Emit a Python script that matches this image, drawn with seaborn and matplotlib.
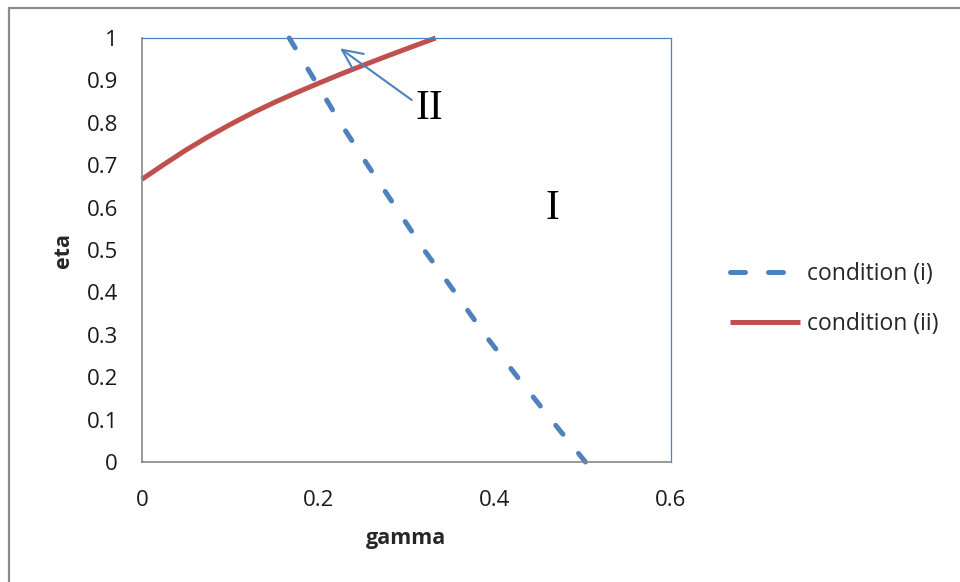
import matplotlib
matplotlib.use("Agg")
import matplotlib.pyplot as plt
from matplotlib.lines import Line2D
import seaborn as sns
import pandas as pd

# ---- data ----
cond_i_gamma = [0.167, 0.196, 0.225, 0.256, 0.288, 0.320, 0.355, 0.389, 0.426, 0.464, 0.503]
cond_i_eta = [1.0, 0.9, 0.8, 0.7, 0.6, 0.5, 0.4, 0.3, 0.2, 0.1, 0.0]

cond_ii_gamma = [0.0, 0.025, 0.05, 0.075, 0.1, 0.125, 0.15, 0.175, 0.2, 0.225,
                 0.25, 0.275, 0.3, 0.333]
cond_ii_eta = [0.667, 0.702, 0.736, 0.767, 0.796, 0.823, 0.848, 0.871, 0.893,
               0.9145, 0.935, 0.955, 0.9745, 1.0]

series_labels = ["condition (i)", "condition (ii)"]
x_ticks = [0, 0.2, 0.4, 0.6]
x_tick_labels = ["0", "0.2", "0.4", "0.6"]
y_ticks = [0, 0.1, 0.2, 0.3, 0.4, 0.5, 0.6, 0.7, 0.8, 0.9, 1.0]
y_tick_labels = ["0", "0.1", "0.2", "0.3", "0.4", "0.5", "0.6", "0.7", "0.8", "0.9", "1"]
x_label = "gamma"
y_label = "eta"
region_labels = ["I", "II"]

BLUE = "#4F81BD"
RED = "#C0504D"
GRAY = "#868686"

sns.set_style("white")
plt.rcParams["font.family"] = ["Open Sans", "DejaVu Sans"]

fig = plt.figure(figsize=(9.6, 5.82), dpi=100)
W, H = 960, 582
L, R, T, B = 142, 671, 38, 462
ax = fig.add_axes([L / W, 1 - B / H, (R - L) / W, (B - T) / H])

df_i = pd.DataFrame({"gamma": cond_i_gamma, "eta": cond_i_eta})
df_ii = pd.DataFrame({"gamma": cond_ii_gamma, "eta": cond_ii_eta})

sns.lineplot(data=df_i, x="gamma", y="eta", ax=ax, color=BLUE, lw=3.6,
             linestyle=(0, (2.3, 4.94)), dash_capstyle="round", sort=False,
             estimator=None, clip_on=False)
sns.lineplot(data=df_ii, x="gamma", y="eta", ax=ax, color=RED, lw=3.6,
             solid_capstyle="butt", solid_joinstyle="round", sort=False,
             estimator=None, clip_on=False)

ax.set_xlim(0, 0.6)
ax.set_ylim(0, 1)
ax.set_xticks(x_ticks)
ax.set_xticklabels(x_tick_labels)
ax.set_yticks(y_ticks)
ax.set_yticklabels(y_tick_labels)
ax.tick_params(axis="both", which="major", direction="out", length=7.2,
               width=1.1, color=GRAY, labelsize=16, labelcolor="#1a1a1a")
ax.tick_params(axis="y", pad=10)
ax.tick_params(axis="x", pad=13)

for side in ["left", "bottom"]:
    ax.spines[side].set_color(GRAY)
    ax.spines[side].set_linewidth(1.2)
for side in ["top", "right"]:
    ax.spines[side].set_color(BLUE)
    ax.spines[side].set_linewidth(0.9)
    ax.spines[side].set_visible(True)

ax.set_xlabel(x_label, fontsize=15.5, fontweight="bold", labelpad=12)
ax.set_ylabel(y_label, fontsize=15.5, fontweight="bold", labelpad=9)

# region labels
ax.text(0.465, 0.597, region_labels[0], fontsize=30, family="Liberation Serif",
        ha="center", va="center", color="black")
ax.text(0.3255, 0.832, region_labels[1], fontsize=30, family="Liberation Serif",
        ha="center", va="center", color="black")
ax.annotate("", xy=(0.2246, 0.9757), xytext=(0.3059, 0.8538),
            arrowprops=dict(arrowstyle="->,head_length=1.44,head_width=0.67",
                            mutation_scale=10, color=BLUE, lw=1.5,
                            shrinkA=0, shrinkB=0))

# legend
handles = [
    Line2D([0], [0], color=BLUE, lw=3.6, dashes=(3.0, 4.6), dash_capstyle="round"),
    Line2D([0], [0], color=RED, lw=3.6, solid_capstyle="butt"),
]
fig.legend(handles, series_labels, loc="center left",
           bbox_to_anchor=(730 / W, 1 - 299 / H), frameon=False,
           fontsize=16.5, handlelength=3.05, handletextpad=0.3,
           labelspacing=1.17, borderpad=0, borderaxespad=0)

# outer chart border (top and left visible)
fig.add_artist(Line2D([9 / W, 1.0], [1 - 8 / H, 1 - 8 / H], color="#8c8c8c", lw=1.6,
                      transform=fig.transFigure))
fig.add_artist(Line2D([9 / W, 9 / W], [1 - 8 / H, 0], color="#8c8c8c", lw=1.6,
                      transform=fig.transFigure))

fig.savefig("out.png", dpi=100)
